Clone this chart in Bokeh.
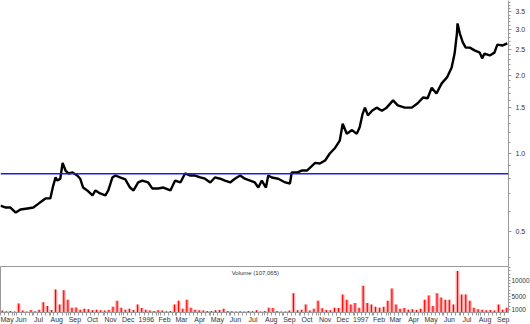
import pandas as pd
from bokeh.plotting import figure
from bokeh.layouts import column
from bokeh.models import (Range1d, FixedTicker, CustomJSTickFormatter, Span, Label,
                          ColumnDataSource, PrintfTickFormatter)
from bokeh.embed import file_html
from bokeh.resources import INLINE

# ---------------- data ----------------
price_dates = [
    "1995-05-08", "1995-05-17", "1995-05-25", "1995-06-03", "1995-06-11", "1995-06-23",
    "1995-07-03", "1995-07-12", "1995-07-19", "1995-07-24", "1995-08-01", "1995-08-06",
    "1995-08-10", "1995-08-13", "1995-08-18", "1995-08-22", "1995-08-27", "1995-09-01",
    "1995-09-08", "1995-09-16", "1995-09-21", "1995-09-26", "1995-10-03", "1995-10-12",
    "1995-10-17", "1995-10-25", "1995-11-03", "1995-11-08", "1995-11-15", "1995-11-20",
    "1995-11-28", "1995-12-07", "1995-12-15", "1995-12-21", "1995-12-29", "1996-01-05",
    "1996-01-15", "1996-01-22", "1996-02-01", "1996-02-10", "1996-02-22", "1996-03-01",
    "1996-03-10", "1996-03-18", "1996-03-27", "1996-04-04", "1996-04-13", "1996-04-21",
    "1996-04-30", "1996-05-08", "1996-05-17", "1996-05-25", "1996-06-03", "1996-06-11",
    "1996-06-20", "1996-06-28", "1996-07-07", "1996-07-15", "1996-07-21", "1996-07-27",
    "1996-08-03", "1996-08-07", "1996-08-13", "1996-08-24", "1996-09-05", "1996-09-13",
    "1996-09-16", "1996-09-25", "1996-10-03", "1996-10-12", "1996-10-17", "1996-10-26",
    "1996-11-03", "1996-11-12", "1996-11-20", "1996-11-29", "1996-12-07", "1996-12-12",
    "1996-12-19", "1996-12-28", "1997-01-05", "1997-01-10", "1997-01-15", "1997-01-19",
    "1997-01-24", "1997-01-31", "1997-02-08", "1997-02-17", "1997-02-25", "1997-03-08",
    "1997-03-16", "1997-03-28", "1997-04-09", "1997-04-19", "1997-04-28", "1997-05-06",
    "1997-05-13", "1997-05-21", "1997-05-30", "1997-06-08", "1997-06-16", "1997-06-21",
    "1997-06-25", "1997-06-26", "1997-06-30", "1997-07-05", "1997-07-10", "1997-07-17",
    "1997-07-25", "1997-08-03", "1997-08-07", "1997-08-11", "1997-08-20", "1997-08-28",
    "1997-09-02", "1997-09-11", "1997-09-19",
]
price_close = [
    0.63, 0.62, 0.62, 0.593, 0.609, 0.615,
    0.62, 0.642, 0.66, 0.672, 0.672, 0.753,
    0.809, 0.787, 0.80, 0.92, 0.86, 0.838,
    0.845, 0.823, 0.80, 0.74, 0.721, 0.69,
    0.721, 0.702, 0.69, 0.721, 0.809, 0.823,
    0.809, 0.795, 0.74, 0.721, 0.774, 0.787,
    0.774, 0.734, 0.734, 0.74, 0.721, 0.787,
    0.774, 0.838, 0.823, 0.823, 0.809, 0.80,
    0.774, 0.809, 0.80, 0.787, 0.774, 0.80,
    0.823, 0.80, 0.787, 0.774, 0.74, 0.787,
    0.74, 0.823, 0.809, 0.80, 0.774, 0.767,
    0.845, 0.845, 0.86, 0.86, 0.88, 0.92,
    0.915, 0.94, 1.00, 1.05, 1.12, 1.30,
    1.19, 1.23, 1.19, 1.26, 1.42, 1.50,
    1.40, 1.46, 1.50, 1.46, 1.50, 1.60,
    1.53, 1.50, 1.50, 1.56, 1.64, 1.63,
    1.79, 1.70, 1.86, 1.96, 2.14, 2.42,
    2.89, 3.16, 2.89, 2.67, 2.55, 2.55,
    2.49, 2.44, 2.32, 2.42, 2.38, 2.44,
    2.62, 2.60, 2.65,
]

# weekly volume, weeks starting 1995-05-08
volume_week_start = "1995-05-08"
volume = [
    600, 400, 500, 300, 2800, 600, 300, 800, 400, 900,
    3200, 2000, 800, 7200, 2500, 7000, 4000, 1500, 1600, 900,
    1200, 1000, 700, 900, 700, 600, 800, 1800, 3700, 1500,
    900, 1200, 800, 2500, 1400, 900, 600, 500, 700, 600,
    400, 500, 2500, 3700, 1200, 4000, 1500, 900, 700, 600,
    500, 500, 700, 800, 1200, 500, 400, 300, 400, 300,
    500, 400, 700, 300, 500, 1500, 1400, 500, 300, 300,
    600, 6000, 700, 900, 2500, 600, 1200, 3700, 1300, 800,
    700, 1500, 1400, 5600, 4000, 2500, 3000, 1500, 8400, 3000,
    2500, 1800, 1500, 1800, 3700, 7500, 2500, 1200, 1400, 900,
    1000, 800, 1200, 4000, 5300, 2000, 6000, 4700, 4000, 4000,
    2500, 13000, 5600, 5600, 3700, 1500, 1000, 900, 700, 800,
    600, 2500, 900, 1500,
]

support_level = 0.835
price_ticks = [0.5, 1.0, 1.5, 2.0, 2.5, 3.0, 3.5]
volume_ticks = [1000, 5000, 10000]
volume_title = "Volume (107,065)"
x_first = "1995-05-08"
x_last = "1997-09-21"

# ---------------- build ----------------
DAY_MS = 86400000
EPOCH = pd.Timestamp("1970-01-01")


def to_ms(s):
    return (pd.Timestamp(s) - EPOCH).total_seconds() * 1000.0


xs = to_ms(x_first)
xe = to_ms(x_last)

price_src = ColumnDataSource(dict(
    x=[to_ms(d) for d in price_dates], y=price_close))

vol_dates = pd.date_range(volume_week_start, periods=len(volume), freq="7D")
vol_src = ColumnDataSource(dict(
    x=[(d - EPOCH).total_seconds() * 1000.0 + 3 * DAY_MS for d in vol_dates],
    v=volume))

FONT = "Liberation Sans"
AXIS_COL = "#9a9a9a"
LABEL_COL = "#333333"
FW = 508

main = figure(frame_width=FW, frame_height=266, x_axis_type="datetime",
              y_axis_type="log", y_axis_location="right",
              x_range=Range1d(xs, xe), y_range=Range1d(0.368, 3.87),
              output_backend="svg", toolbar_location=None, min_border=0)
main.outline_line_color = None
main.xaxis.visible = False
main.grid.visible = False

main.line("x", "y", source=price_src, line_color="black", line_width=2.4)
main.add_layout(Span(location=support_level, dimension="width",
                     line_color="#1f1fe6", line_width=1.5))

minor_p = [round(0.1 * i, 1) for i in range(4, 39) if round(0.1 * i, 1) not in price_ticks]
ya = main.yaxis[0]
ya.ticker = FixedTicker(ticks=price_ticks, minor_ticks=minor_p)
ya.formatter = PrintfTickFormatter(format="%.1f")

vol = figure(frame_width=FW, frame_height=46, x_axis_type="datetime",
             y_axis_location="right", x_range=main.x_range,
             y_range=Range1d(0, 14400),
             output_backend="svg", toolbar_location=None, min_border=0)
vol.outline_line_color = AXIS_COL
vol.grid.visible = False
vol.vbar(x="x", top="v", width=6.5 * DAY_MS, source=vol_src,
         fill_color="#ff9c9c", line_color=None, fill_alpha=0.8)
vol.vbar(x="x", top="v", width=2.0 * DAY_MS, source=vol_src,
         fill_color="#ff0000", line_color=None)

va = vol.yaxis[0]
va.ticker = FixedTicker(ticks=volume_ticks,
                        minor_ticks=[1000 * i for i in range(2, 15) if 1000 * i not in volume_ticks])
va.formatter = PrintfTickFormatter(format="%d")

# month labels sit just right of the month-start tick marks
month_starts = [to_ms(d) for d in pd.date_range("1995-05-01", "1997-09-01", freq="MS")]
label_shift = 11 * DAY_MS
label_ticks = [max(m, xs) + label_shift for m in month_starts]
week_ticks = [(d - EPOCH).total_seconds() * 1000.0 for d in pd.date_range("1995-05-08", x_last, freq="7D")]
xa = vol.xaxis[0]
xa.ticker = FixedTicker(ticks=label_ticks,
                        minor_ticks=sorted(set(week_ticks + [m for m in month_starts if m >= xs])))
xa.formatter = CustomJSTickFormatter(code="""
const d = new Date(tick);
const m = d.getUTCMonth();
const names = ["", "Feb", "Mar", "Apr", "May", "Jun", "Jul", "Aug", "Sep", "Oct", "Nov", "Dec"];
if (m == 0) { return String(d.getUTCFullYear()); }
return names[m];
""")

for ax in (ya, va, xa):
    ax.axis_line_color = AXIS_COL
    ax.major_tick_line_color = AXIS_COL
    ax.minor_tick_line_color = AXIS_COL
    ax.major_tick_in = 0
    ax.major_tick_out = 3
    ax.minor_tick_in = 0
    ax.minor_tick_out = 2
    ax.major_label_text_font = FONT
    ax.major_label_text_font_size = "7px"
    ax.major_label_text_color = LABEL_COL
ya.major_label_standoff = 4
va.major_label_standoff = 1
va.major_tick_out = 2
va.major_label_text_font_size = "6.5px"
xa.major_tick_line_color = None
xa.major_tick_out = 3
xa.minor_tick_out = 3
xa.major_label_standoff = 0

vol.add_layout(Label(x=xs + 0.455 * (xe - xs), y=14400, y_offset=-3,
                     text=volume_title, text_font=FONT, text_font_size="6px",
                     text_color=LABEL_COL, text_baseline="top"))

layout = column(main, vol, spacing=0)
open("out.html", "w").write(file_html(layout, INLINE))
